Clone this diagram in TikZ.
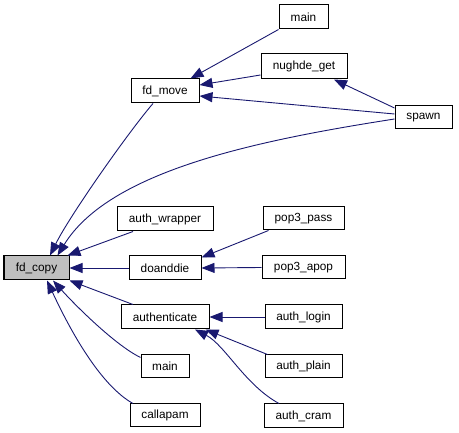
\documentclass[tikz,border=0pt]{standalone}
\usepackage{fontspec}
\setmainfont{Liberation Sans}
\usetikzlibrary{arrows.meta}
\definecolor{edgeblue}{HTML}{191970}
\definecolor{nodegray}{HTML}{BFBFBF}
\begin{document}
\begin{tikzpicture}[x=1pt,y=-1pt,
  fn/.style={draw=black,line width=1pt,fill=white,inner sep=0pt,minimum height=24pt,font=\fontsize{11.8}{14}\selectfont},
  call/.style={draw=edgeblue,line width=0.9pt,-{Triangle[length=13pt,width=10pt]}}]
\useasboundingbox (0,0) rectangle (459,433);
\node[fn,fill=nodegray,minimum width=65pt] (fdcopy) at (36.5,268) {fd\_copy};
\node[fn,minimum width=68pt] (fdmove) at (165,91) {fd\_move};
\node[fn,minimum width=96pt] (authwrapper) at (165,219) {auth\_wrapper};
\node[fn,minimum width=72pt] (doanddie) at (165,268) {doanddie};
\node[fn,minimum width=88pt] (authenticate) at (165,317) {authenticate};
\node[fn,minimum width=48pt,minimum height=23pt] (mainB) at (165,366.5) {main};
\node[fn,minimum width=70pt,minimum height=23pt] (callapam) at (165,415.5) {callapam};
\node[fn,minimum width=49pt] (mainA) at (303.5,17) {main};
\node[fn,minimum width=86pt,minimum height=25pt] (nughde) at (304,66.5) {nughde\_get};
\node[fn,minimum width=57pt,minimum height=23pt] (spawn) at (423.5,117.5) {spawn};
\node[fn,minimum width=81pt,minimum height=23pt] (pop3pass) at (303.5,218.5) {pop3\_pass};
\node[fn,minimum width=83pt,minimum height=23pt] (pop3apop) at (303.5,267.5) {pop3\_apop};
\node[fn,minimum width=77pt] (authlogin) at (303.5,317) {auth\_login};
\node[fn,minimum width=77pt,minimum height=23pt] (authplain) at (303.5,366.5) {auth\_plain};
\node[fn,minimum width=79pt] (authcram) at (303.5,416) {auth\_cram};

% callers of fd_copy
\draw[call] ([xshift=-12pt]fdmove.south) .. controls (130,130) and (70,215) .. ([xshift=13.5pt]fdcopy.north);
\draw[call] ([yshift=-1.5pt]spawn.west) .. controls (260,140) and (110,170) .. ([xshift=21pt]fdcopy.north);
\draw[call] ([xshift=-32pt]authwrapper.south) -- ([xshift=-2pt]fdcopy.north east);
\draw[call] (doanddie.west) -- (fdcopy.east);
\draw[call] ([xshift=-32pt]authenticate.north) -- (fdcopy.south east);
\draw[call] ([yshift=9pt]mainB.west) .. controls (115,345) and (75,305) .. ([xshift=16.5pt]fdcopy.south);
\draw[call] ([xshift=-32pt]callapam.north) .. controls (100,385) and (70,330) .. ([xshift=10.5pt]fdcopy.south);
% callers of fd_move
\draw[call] (mainA.south west) -- ([xshift=-9pt]fdmove.north east);
\draw[call] ([yshift=-8.5pt]nughde.west) -- ([yshift=6pt]fdmove.east);
\draw[call] ([yshift=3.5pt]spawn.west) -- ([yshift=-5pt]fdmove.east);
\draw[call] ([yshift=9.5pt]spawn.west) -- ([xshift=30pt]nughde.south);
% callers of doanddie
\draw[call] ([xshift=6pt]pop3pass.south west) -- ([yshift=-2pt]doanddie.north east);
\draw[call] (pop3apop.west) -- (doanddie.east);
% callers of authenticate
\draw[call] (authlogin.west) -- (authenticate.east);
\draw[call] ([xshift=3pt]authplain.north west) -- ([xshift=-4pt]authenticate.south east);
\draw[call] ([xshift=-24.5pt]authcram.north) .. controls (245,385) and (225,345) .. ([xshift=30pt]authenticate.south);
\end{tikzpicture}
\end{document}
